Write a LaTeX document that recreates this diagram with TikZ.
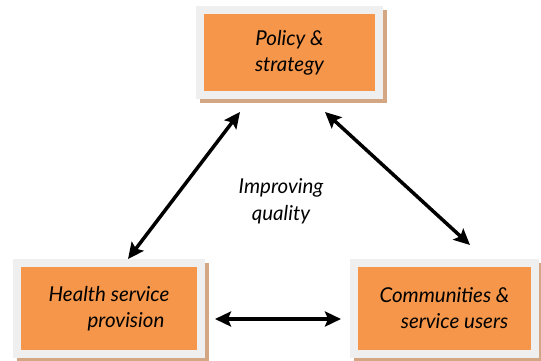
\documentclass[tikz,border=0pt]{standalone}
\usepackage{fontspec}
\setmainfont{Lato}
\usetikzlibrary{arrows.meta}

\definecolor{boxorange}{HTML}{F5964A}
\definecolor{boxgrey}{HTML}{EFEFEF}
\definecolor{boxshadow}{HTML}{D4A784}

\tikzset{
	fieldbox/.style={draw=boxgrey, fill=boxorange, line width=8pt, inner sep=0pt,
		align=center, font=\itshape\fontsize{20.5}{26}\selectfont,
		preaction={draw=boxshadow, fill=boxshadow, line width=8pt,
			transform canvas={shift={(4pt,-4pt)}}}},
	link/.style={line width=3.5pt,
		{Stealth[length=16pt,width=15pt,inset=3pt]}-{Stealth[length=16pt,width=15pt,inset=3pt]}}
}

\begin{document}
\begin{tikzpicture}[x=1pt, y=-1pt]
	\useasboundingbox (0,0) rectangle (541,360);

	% draw the three boxes
	\node[fieldbox, minimum width=179pt, minimum height=85pt] (policy) at (289.5,52.5) {Policy \&\\strategy};
	\node[fieldbox, minimum width=184pt, minimum height=91pt] (health) at (109,308.5) {Health service\\\hspace*{34pt}provision};
	\node[fieldbox, minimum width=181pt, minimum height=91pt] (users) at (444.5,308.5) {Communities \&\\\hspace*{20pt}service users};

	% draw centre label
	\node[align=center, font=\itshape\fontsize{20.5}{27}\selectfont] (quality) at (281,201) {Improving\\quality};

	% draw links
	\draw[link] ([xshift=19pt]health.north) -- ([xshift=-49.5pt,yshift=-13pt]policy.south);
	\draw[link] ([xshift=35.5pt,yshift=-13pt]policy.south) -- ([xshift=25.5pt,yshift=14pt]users.north);
	\draw[link] ([xshift=10pt,yshift=-10.5pt]health.east) -- ([xshift=-9pt,yshift=-10.5pt]users.west);

\end{tikzpicture}
\end{document}
